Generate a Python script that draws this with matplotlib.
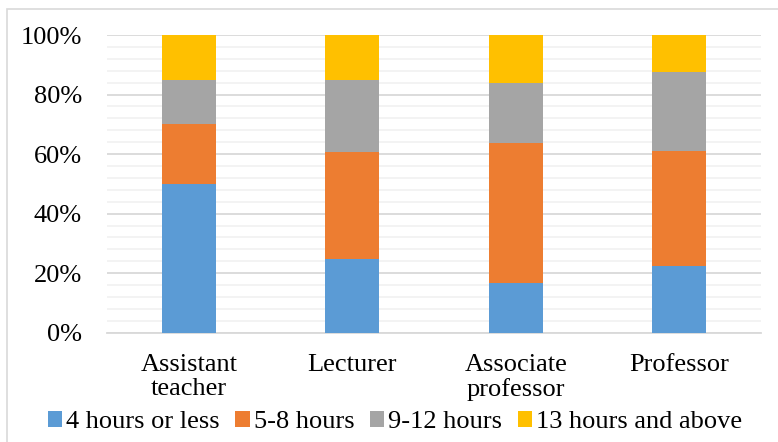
import matplotlib
matplotlib.use("Agg")
import matplotlib.pyplot as plt
import numpy as np
from matplotlib.patches import Rectangle
from matplotlib.ticker import MultipleLocator, PercentFormatter

categories = ["Assistant\nteacher", "Lecturer", "Associate\nprofessor", "Professor"]
series_names = ["4 hours or less", "5-8 hours", "9-12 hours", "13 hours and above"]
s_4_or_less = [50.0, 24.8, 16.8, 22.4]
s_5_8 = [20.0, 36.0, 46.8, 38.6]
s_9_12 = [15.0, 24.1, 20.2, 26.6]
s_13_above = [15.0, 15.1, 16.2, 12.4]
colors = ["#5B9BD5", "#ED7D31", "#A5A5A5", "#FFC000"]

plt.rcParams['font.family'] = ['Liberation Serif', 'DejaVu Serif']
FS = 19

fig = plt.figure(figsize=(7.78, 4.42), dpi=100)
ax = fig.add_axes([107/778, 1-332.7/442, (761-107)/778, (332.7-35)/442])

x = np.arange(len(categories))
bottom = np.zeros(len(categories))
for name, vals, c in zip(series_names, [s_4_or_less, s_5_8, s_9_12, s_13_above], colors):
    ax.bar(x, vals, width=0.33, bottom=bottom, color=c, label=name, zorder=3)
    bottom += np.array(vals)

ax.set_xlim(-0.5, 3.5)
ax.set_ylim(0, 100)
ax.yaxis.set_major_locator(MultipleLocator(20))
ax.yaxis.set_minor_locator(MultipleLocator(4))
ax.yaxis.set_major_formatter(PercentFormatter(100, decimals=0))
ax.grid(axis='y', which='major', color='#D9D9D9', linewidth=1.3, zorder=0)
ax.grid(axis='y', which='minor', color='#F2F2F2', linewidth=1.3, zorder=0)
ax.set_axisbelow(True)
for s in ['top', 'right', 'left']:
    ax.spines[s].set_visible(False)
ax.spines['bottom'].set_color('#D9D9D9')
ax.spines['bottom'].set_linewidth(1.3)
ax.tick_params(axis='both', which='both', length=0, labelsize=FS)
ax.tick_params(axis='y', pad=18)
ax.tick_params(axis='x', pad=15)
ax.set_xticks(x)
ax.set_xticklabels(categories, linespacing=1.15)

leg = fig.legend(loc='center', bbox_to_anchor=(395/778, 20/442), ncol=4, frameon=False,
                 prop={'family': 'Liberation Serif', 'size': FS},
                 handlelength=0.54, handleheight=0.54, handletextpad=0.15,
                 columnspacing=0.6, borderpad=0, borderaxespad=0)

fig.patches.append(Rectangle((7/778, -0.1), 1.2, 1.1 - 9/442, transform=fig.transFigure,
                             fill=False, edgecolor='#D9D9D9', linewidth=1.2))

fig.savefig("out.png", dpi=100)
